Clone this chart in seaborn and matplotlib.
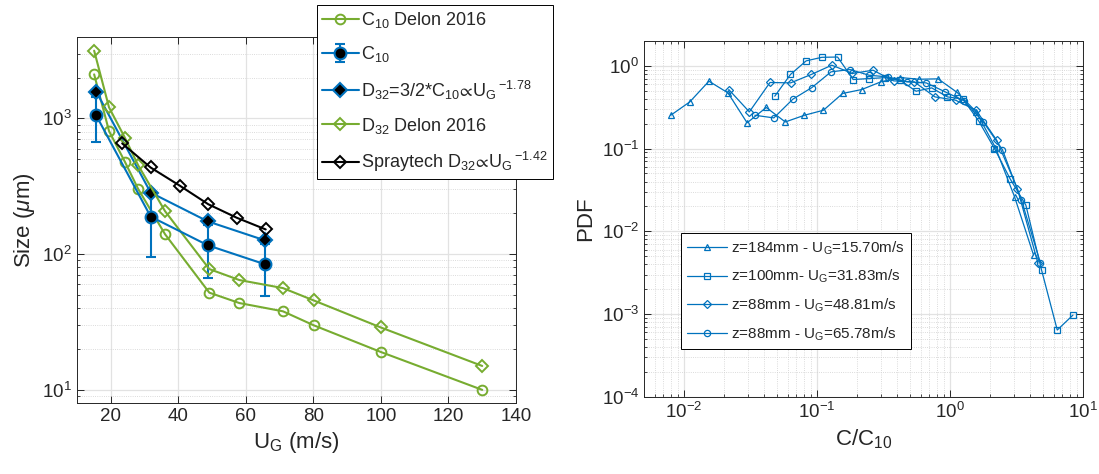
import matplotlib
matplotlib.use("Agg")
import matplotlib.pyplot as plt
import seaborn as sns
from matplotlib.ticker import LogLocator, FixedLocator, NullFormatter

# ---------------- Left panel data ----------------
ug_delon = [15.1, 19.5, 24.2, 28.1, 36.1, 49.2, 58.1, 71.0, 80.1, 100.0, 130.0]
c10_delon = [2110, 807, 479, 303, 140, 52, 43.6, 37.9, 29.9, 19.0, 10.0]
d32_delon = [3155, 1206, 720, 453, 207, 77.6, 64.4, 56.2, 45.6, 28.8, 15.0]
ug_exp = [15.70, 31.83, 48.81, 65.78]
c10_exp = [1052, 189, 116, 84]
c10_err = [384, 94, 49, 35]
d32_exp = [1578, 284, 174, 126]
ug_spray = [23.4, 31.8, 40.4, 48.9, 57.4, 65.9]
d32_spray = [654, 435, 320, 233, 185, 152]

left_labels = [r"C$_{10}$ Delon 2016", r"C$_{10}$",
               r"D$_{32}$=3/2*C$_{10}$$\!\propto\!$U$_{\mathrm{G}}$$\,^{-1.78}$",
               r"D$_{32}$ Delon 2016",
               r"Spraytech D$_{32}$$\!\propto\!$U$_{\mathrm{G}}$$\,^{-1.42}$"]

# ---------------- Right panel data ----------------
x_tri = [0.00794, 0.01104, 0.01538, 0.02138, 0.02979, 0.04150, 0.05768, 0.08035, 0.1117, 0.1556,
         0.2168, 0.3013, 0.4198, 0.5834, 0.8128, 1.132, 1.574, 2.193, 3.055, 4.246]
y_tri = [0.253, 0.367, 0.653, 0.472, 0.205, 0.314, 0.210, 0.253, 0.291, 0.464,
         0.518, 0.641, 0.723, 0.690, 0.697, 0.477, 0.278, 0.103, 0.0261, 0.00515]
x_sq = [0.04808, 0.06310, 0.08279, 0.1086, 0.1426, 0.1871, 0.2455, 0.3221, 0.4227, 0.5546,
        0.7278, 0.9550, 1.253, 1.644, 2.158, 2.831, 3.715, 4.875, 6.397, 8.395]
y_sq = [0.430, 0.787, 1.15, 1.27, 1.28, 0.684, 0.703, 0.72, 0.67, 0.494,
        0.542, 0.422, 0.396, 0.215, 0.100, 0.043, 0.0207, 0.0034, 0.00064, 0.00097]
x_dia = [0.02168, 0.03097, 0.04426, 0.06324, 0.09036, 0.1291, 0.1845, 0.2636, 0.3767, 0.5383,
         0.7691, 1.099, 1.570, 2.244, 3.206, 4.581]
y_dia = [0.518, 0.278, 0.630, 0.623, 0.787, 1.02, 0.81, 0.887, 0.659, 0.641,
         0.422, 0.385, 0.291, 0.126, 0.0329, 0.0041]
x_circ = [0.03404, 0.04732, 0.06577, 0.09141, 0.1274, 0.1770, 0.2460, 0.3420, 0.4753, 0.6622,
          0.9204, 1.279, 1.778, 2.472, 3.443, 4.786]
y_circ = [0.253, 0.235, 0.396, 0.547, 0.847, 0.904, 0.771, 0.736, 0.641, 0.623,
          0.485, 0.377, 0.210, 0.0975, 0.0238, 0.0041]
right_labels = [r"z=184mm - U$_{\mathrm{G}}$=15.70m/s", r"z=100mm- U$_{\mathrm{G}}$=31.83m/s",
                r"z=88mm - U$_{\mathrm{G}}$=48.81m/s", r"z=88mm - U$_{\mathrm{G}}$=65.78m/s"]

# ---------------- Style ----------------
sns.set_style("ticks")
plt.rcParams["font.family"] = ["Liberation Sans", "DejaVu Sans"]
plt.rcParams["mathtext.fontset"] = "custom"
plt.rcParams["mathtext.rm"] = "Liberation Sans"
plt.rcParams["mathtext.it"] = "Liberation Sans:italic"
plt.rcParams["mathtext.bf"] = "Liberation Sans:bold"
plt.rcParams["mathtext.sf"] = "Liberation Sans"
plt.rcParams["mathtext.fallback"] = "stixsans"

BLUE = "#0072BD"
GREEN = "#77AC30"
DARK = "#262626"

fig = plt.figure(figsize=(10.99, 4.74), dpi=100)
ax1 = fig.add_axes([0.0700, 0.1498, 0.3995, 0.7728])
ax2 = fig.add_axes([0.586, 0.1631, 0.3995, 0.7504])

for ax in (ax1, ax2):
    ax.set_yscale("log")

# ---------------- Left panel ----------------
lw = 1.5
sns.lineplot(x=ug_delon, y=c10_delon, ax=ax1, sort=False, estimator=None, color=GREEN, lw=lw,
             marker="o", markersize=7, markerfacecolor="none", markeredgecolor=GREEN,
             markeredgewidth=1.4, label=left_labels[0])
ax1.errorbar(ug_exp, c10_exp, yerr=c10_err, fmt="-o", color=BLUE, lw=lw, elinewidth=lw,
             capsize=3.5, capthick=lw, ms=8.5, mfc="black", mec=BLUE, mew=1.5,
             label=left_labels[1])
sns.lineplot(x=ug_exp, y=d32_exp, ax=ax1, sort=False, estimator=None, color=BLUE, lw=lw,
             marker="D", markersize=7.5, markerfacecolor="black", markeredgecolor=BLUE,
             markeredgewidth=1.5, label=left_labels[2])
sns.lineplot(x=ug_delon, y=d32_delon, ax=ax1, sort=False, estimator=None, color=GREEN, lw=lw,
             marker="D", markersize=6.5, markerfacecolor="none", markeredgecolor=GREEN,
             markeredgewidth=1.4, label=left_labels[3])
sns.lineplot(x=ug_spray, y=d32_spray, ax=ax1, sort=False, estimator=None, color="black", lw=lw,
             marker="D", markersize=6.5, markerfacecolor="none", markeredgecolor="black",
             markeredgewidth=1.4, label=left_labels[4])

ax1.set_xlim(10, 140)
ax1.set_ylim(8, 4000)
ax1.xaxis.set_major_locator(FixedLocator([20, 40, 60, 80, 100, 120, 140]))
ax1.yaxis.set_major_locator(LogLocator(base=10, numticks=10))
ax1.yaxis.set_minor_locator(LogLocator(base=10, subs=range(2, 10), numticks=20))
ax1.yaxis.set_minor_formatter(NullFormatter())
ax1.set_xlabel(r"U$_{\mathrm{G}}$ (m/s)", fontsize=16, color=DARK)
ax1.set_ylabel(r"Size ($\mu$m)", fontsize=16, color=DARK)

# ---------------- Right panel ----------------
ax2.set_xscale("log")
rl = 0.9
common = dict(sort=False, estimator=None, color=BLUE, lw=rl, markersize=4.5,
              markerfacecolor="none", markeredgecolor=BLUE, markeredgewidth=0.9)
sns.lineplot(x=x_tri, y=y_tri, ax=ax2, marker="^", label=right_labels[0], **common)
sns.lineplot(x=x_sq, y=y_sq, ax=ax2, marker="s", label=right_labels[1], **common)
sns.lineplot(x=x_dia, y=y_dia, ax=ax2, marker="D", label=right_labels[2],
             **{**common, "markersize": 3.8})
sns.lineplot(x=x_circ, y=y_circ, ax=ax2, marker="o", label=right_labels[3], **common)

ax2.set_xlim(0.005, 10)
ax2.set_ylim(1e-4, 2)
for axis in (ax2.xaxis, ax2.yaxis):
    axis.set_major_locator(LogLocator(base=10, numticks=10))
    axis.set_minor_locator(LogLocator(base=10, subs=range(2, 10), numticks=20))
    axis.set_minor_formatter(NullFormatter())
ax2.set_xlabel(r"C/C$_{10}$", fontsize=16, color=DARK)
ax2.set_ylabel("PDF", fontsize=16, color=DARK)

# ---------------- Common axes styling ----------------
for ax in (ax1, ax2):
    ax.set_axisbelow(True)
    ax.grid(which="major", color="#e2e2e2", lw=0.9, ls="-")
    ax.grid(which="minor", color="#cfcfcf", lw=0.6, ls=":")
    for s in ax.spines.values():
        s.set_visible(True)
        s.set_color(DARK)
        s.set_linewidth(0.7)
    ax.tick_params(which="both", direction="in", top=True, right=True, colors=DARK,
                   labelsize=13.5)
    ax.tick_params(which="major", length=5, width=0.7)
    ax.tick_params(which="minor", length=2.5, width=0.6)
ax1.grid(which="minor", axis="x", visible=False)

# ---------------- Legends ----------------
h1, l1 = ax1.get_legend_handles_labels()
hmap = dict(zip(l1, h1))
leg1 = ax1.legend([hmap[l] for l in left_labels], left_labels, loc="upper left",
                  bbox_to_anchor=(317 / 1099, 1 - 5 / 474), bbox_transform=fig.transFigure,
                  fontsize=13, frameon=True, fancybox=False, framealpha=1,
                  edgecolor="black", borderpad=0.3, labelspacing=0.78,
                  handlelength=2.0, handletextpad=0.12, borderaxespad=0)
leg1.get_frame().set_linewidth(0.7)

h2, l2 = ax2.get_legend_handles_labels()
leg2 = ax2.legend(h2, l2, loc="upper left",
                  bbox_to_anchor=(681 / 1099, 1 - 233 / 474), bbox_transform=fig.transFigure,
                  fontsize=11, frameon=True, fancybox=False, framealpha=1,
                  edgecolor="black", borderpad=0.4, labelspacing=0.75,
                  handlelength=2.6, handletextpad=0.3, borderaxespad=0)
leg2.get_frame().set_linewidth(0.7)

fig.savefig("out.png", dpi=100)
